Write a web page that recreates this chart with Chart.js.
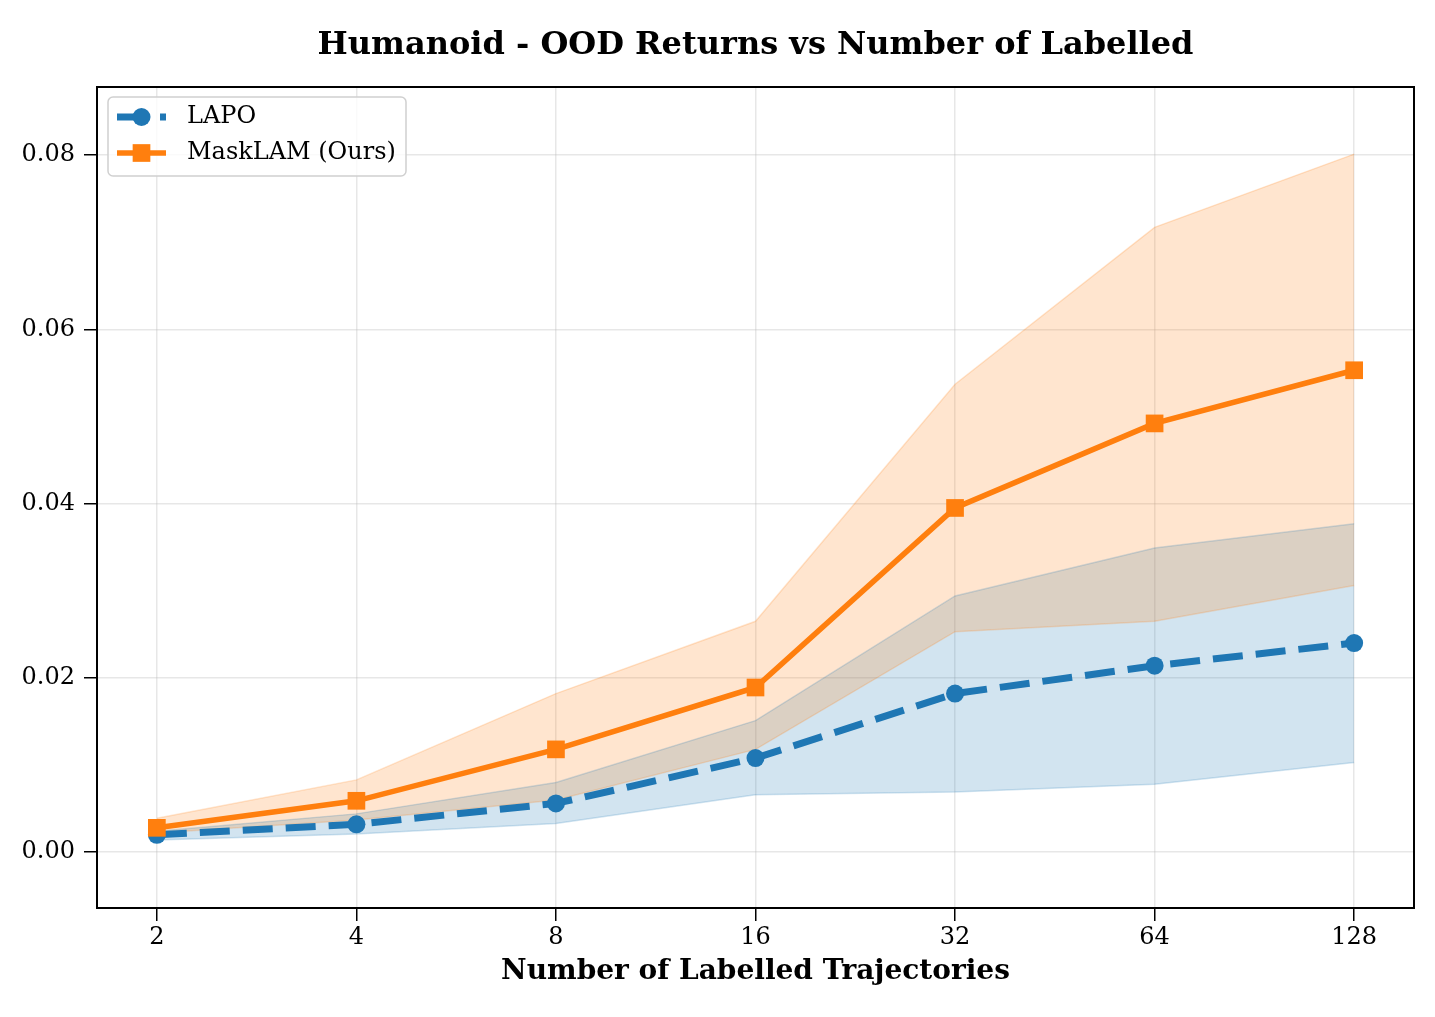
<!DOCTYPE html>
<html>
<head>
<meta charset="utf-8">
<script src="https://cdn.jsdelivr.net/npm/chart.js@4.4.1/dist/chart.umd.min.js"></script>
<style>
  html, body { margin: 0; padding: 0; background: #fff; }
  #wrap { width: 1435px; height: 1017px; }
</style>
</head>
<body>
<div id="wrap"><canvas id="c" width="1435" height="1017"></canvas></div>
<script>
// ---- data ----
const categories = [2, 4, 8, 16, 32, 64, 128];
const lapoMean  = [0.0020, 0.0032, 0.0056, 0.0108, 0.0182, 0.0214, 0.0240];
const lapoUpper = [0.0024, 0.0044, 0.0080, 0.0151, 0.0294, 0.0349, 0.0377];
const lapoLower = [0.0014, 0.0021, 0.0033, 0.0066, 0.0069, 0.0078, 0.0103];
const maskMean  = [0.0028, 0.0059, 0.0118, 0.0189, 0.0395, 0.0492, 0.0553];
const maskUpper = [0.0039, 0.0083, 0.0182, 0.0265, 0.0537, 0.0717, 0.0801];
const maskLower = [0.0022, 0.0037, 0.0060, 0.0118, 0.0253, 0.0265, 0.0306];
const yTicks = [0.00, 0.02, 0.04, 0.06, 0.08];
const xTickLabels = ['2', '4', '8', '16', '32', '64', '128'];

const titleText = 'Humanoid - OOD Returns vs Number of Labelled';
const xTitle = 'Number of Labelled Trajectories';

const BLUE = '#1f77b4';
const ORANGE = '#ff7f0e';
const BLUE_A = 'rgba(31,119,180,0.2)';
const ORANGE_A = 'rgba(255,127,14,0.2)';
const FONT = "'DejaVu Serif', serif";

const pts = arr => arr.map((v, i) => ({ x: categories[i], y: v }));

const datasets = [
  { label: '_lapoUpper', data: pts(lapoUpper), borderColor: BLUE_A, borderWidth: 1.5, pointRadius: 0, fill: false, order: 3 },
  { label: '_lapoLower', data: pts(lapoLower), borderColor: BLUE_A, borderWidth: 1.5, pointRadius: 0, fill: 0, backgroundColor: BLUE_A, order: 3 },
  { label: '_maskUpper', data: pts(maskUpper), borderColor: ORANGE_A, borderWidth: 1.5, pointRadius: 0, fill: false, order: 2 },
  { label: '_maskLower', data: pts(maskLower), borderColor: ORANGE_A, borderWidth: 1.5, pointRadius: 0, fill: 2, backgroundColor: ORANGE_A, order: 2 },
  { label: 'LAPO', data: pts(lapoMean), borderColor: BLUE, backgroundColor: BLUE, borderWidth: 7, borderDash: [30, 13],
    pointStyle: 'circle', pointRadius: 9, pointBorderWidth: 0, pointBackgroundColor: BLUE, fill: false, order: 1 },
  { label: 'MaskLAM (Ours)', data: pts(maskMean), borderColor: ORANGE, backgroundColor: ORANGE, borderWidth: 5.5,
    pointStyle: 'rect', pointRadius: 12.5, pointBorderWidth: 0, pointBackgroundColor: ORANGE, fill: false, order: 0 }
];

const framePlugin = {
  id: 'frame',
  afterDatasetsDraw(chart) {
    const { ctx, chartArea: a } = chart;
    ctx.save();
    // legend box
    const lx = a.left + 11, ly = a.top + 10, lw = 298, lh = 79;
    ctx.beginPath();
    ctx.roundRect(lx, ly, lw, lh, 5);
    ctx.fillStyle = 'rgba(255,255,255,0.8)';
    ctx.fill();
    ctx.lineWidth = 1.5;
    ctx.strokeStyle = '#d0d0d0';
    ctx.stroke();
    const entries = chart.data.datasets.filter(d => !d.label.startsWith('_'));
    entries.forEach((d, i) => {
      const cy = ly + 20 + i * 36;
      const x0 = lx + 9, x1 = lx + 58, xm = (x0 + x1) / 2;
      ctx.beginPath();
      ctx.setLineDash(d.borderDash ? d.borderDash : []);
      ctx.lineWidth = d.borderWidth;
      ctx.strokeStyle = d.borderColor;
      ctx.lineCap = 'butt';
      ctx.moveTo(x0, cy); ctx.lineTo(x1, cy);
      ctx.stroke();
      ctx.setLineDash([]);
      ctx.fillStyle = d.pointBackgroundColor;
      if (d.pointStyle === 'circle') {
        ctx.beginPath(); ctx.arc(xm, cy, d.pointRadius, 0, Math.PI * 2); ctx.fill();
      } else {
        const s = d.pointRadius * Math.SQRT1_2;
        ctx.fillRect(xm - s, cy - s, 2 * s, 2 * s);
      }
      ctx.fillStyle = '#000';
      ctx.font = '24px ' + FONT;
      ctx.textBaseline = 'middle';
      ctx.textAlign = 'left';
      ctx.fillText(d.label, lx + 79, cy);
    });
    // axes frame
    ctx.lineWidth = 2;
    ctx.strokeStyle = '#000';
    ctx.strokeRect(a.left, a.top, a.right - a.left, a.bottom - a.top);
    ctx.restore();
  }
};

new Chart(document.getElementById('c'), {
  type: 'line',
  data: { datasets },
  plugins: [framePlugin],
  options: {
    responsive: false,
    animation: false,
    devicePixelRatio: 1,
    layout: { padding: { left: 0, right: 21, top: 0, bottom: 0 } },
    elements: { line: { tension: 0 } },
    plugins: {
      legend: { display: false },
      tooltip: { enabled: false },
      filler: { drawTime: 'beforeDatasetsDraw' },
      title: {
        display: true, text: titleText, fullSize: false, color: '#000',
        font: { family: FONT, size: 32, weight: 'bold', lineHeight: 1.2 },
        padding: { top: 26, bottom: 22.6 }
      }
    },
    scales: {
      x: {
        type: 'logarithmic',
        min: Math.pow(2, 0.7), max: Math.pow(2, 7.3),
        afterBuildTicks: s => { s.ticks = categories.map(v => ({ value: v })); },
        afterFit: s => { s.height = 109; },
        ticks: {
          autoSkip: false, maxRotation: 0, padding: 2, color: '#000',
          font: { family: FONT, size: 24 },
          callback: (v) => xTickLabels[categories.indexOf(v)]
        },
        grid: { color: 'rgba(176,176,176,0.3)', lineWidth: 1.5, tickColor: '#000', tickWidth: 1.5, tickLength: 13 },
        border: { display: false },
        title: { display: true, text: xTitle, color: '#000',
          font: { family: FONT, size: 28, weight: 'bold', lineHeight: 1.2 }, padding: { top: 0, bottom: 28 } }
      },
      y: {
        type: 'linear',
        min: -0.0064, max: 0.0878,
        afterBuildTicks: s => { s.ticks = yTicks.map(v => ({ value: v })); },
        afterFit: s => { s.width = 97; },
        ticks: { padding: 9, color: '#000', font: { family: FONT, size: 24 }, callback: v => v.toFixed(2) },
        grid: { color: 'rgba(176,176,176,0.3)', lineWidth: 1.5, tickColor: '#000', tickWidth: 1.5, tickLength: 13 },
        border: { display: false }
      }
    }
  }
});
</script>
</body>
</html>
